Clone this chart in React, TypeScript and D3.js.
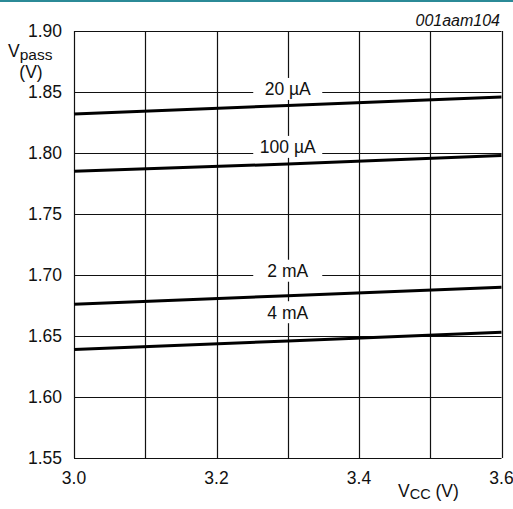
import React from "react";
import * as d3 from "d3";

const xTicks = [3.0, 3.2, 3.4, 3.6];
const xGrid = [3.0, 3.1, 3.2, 3.3, 3.4, 3.5, 3.6];
const yTicks = [1.55, 1.6, 1.65, 1.7, 1.75, 1.8, 1.85, 1.9];

const vcc = [3.0, 3.3, 3.6];
const s20uA = [1.832, 1.839, 1.846];
const s100uA = [1.785, 1.791, 1.798];
const s2mA = [1.676, 1.683, 1.69];
const s4mA = [1.639, 1.646, 1.653];

const seriesNames = ["20 µA", "100 µA", "2 mA", "4 mA"];
const seriesValues = [s20uA, s100uA, s2mA, s4mA];
const labelValues = [1.8525, 1.805, 1.7035, 1.6695];
const labelX = 3.3;

const W = 513;
const H = 509;
const FONT = "'Liberation Sans', Arial, sans-serif";

export default function App() {
  const x = d3.scaleLinear().domain([3.0, 3.6]).range([74, 501.5]);
  const y = d3.scaleLinear().domain([1.55, 1.9]).range([458, 31]);
  const line = d3
    .line<number>()
    .x((_, i) => x(vcc[i]))
    .y((d) => y(d));

  return (
    <div style={{ position: "fixed", left: 0, top: 0 }}>
      <svg width={W} height={H} style={{ display: "block", background: "#fff" }}>
        <rect x={0} y={0} width={W} height={2} fill="#2b8a97" />
        <text x={500} y={26} textAnchor="end" fontFamily={FONT} fontSize={16} fontStyle="italic" fill="#111">
          001aam104
        </text>
        {xGrid.map((v) => (
          <line key={"gx" + v} x1={Math.round(x(v)) + 0.5} x2={Math.round(x(v)) + 0.5} y1={y(1.9)} y2={y(1.55)} stroke="#111" strokeWidth={1.2} />
        ))}
        {yTicks.map((v) => (
          <line key={"gy" + v} x1={x(3.0)} x2={x(3.6)} y1={Math.round(y(v)) + 0.5} y2={Math.round(y(v)) + 0.5} stroke="#111" strokeWidth={1.2} />
        ))}
        {seriesValues.map((s, i) => (
          <path key={"l" + i} d={line(s) || ""} fill="none" stroke="#000" strokeWidth={3} />
        ))}
        {seriesNames.map((n, i) => (
          <g key={"lab" + i}>
            <rect x={x(labelX) - 34.5} y={y(labelValues[i]) - 11} width={69} height={22} fill="#fff" />
            <text x={x(labelX)} y={y(labelValues[i])} dy="0.36em" textAnchor="middle" fontFamily={FONT} fontSize={17.5} fill="#111">
              {n}
            </text>
          </g>
        ))}
        {yTicks.map((v) => (
          <text key={"ty" + v} x={62} y={y(v)} dy="0.36em" textAnchor="end" fontFamily={FONT} fontSize={17.5} fill="#111">
            {v.toFixed(2)}
          </text>
        ))}
        {xTicks.map((v) => (
          <text key={"tx" + v} x={x(v)} y={484} textAnchor="middle" fontFamily={FONT} fontSize={17.5} fill="#111">
            {v.toFixed(1)}
          </text>
        ))}
        <text x={8} y={57} fontFamily={FONT} fontSize={17.5} fill="#111">
          V
          <tspan fontSize={15.5} dy={3}>pass</tspan>
        </text>
        <text x={31} y={78} textAnchor="middle" fontFamily={FONT} fontSize={17.5} fill="#111">
          (V)
        </text>
        <text x={398} y={497} fontFamily={FONT} fontSize={17.5} fill="#111">
          V
          <tspan fontSize={14.5} dy={2}>CC</tspan>
          <tspan dy={-2}> (V)</tspan>
        </text>
      </svg>
    </div>
  );
}
